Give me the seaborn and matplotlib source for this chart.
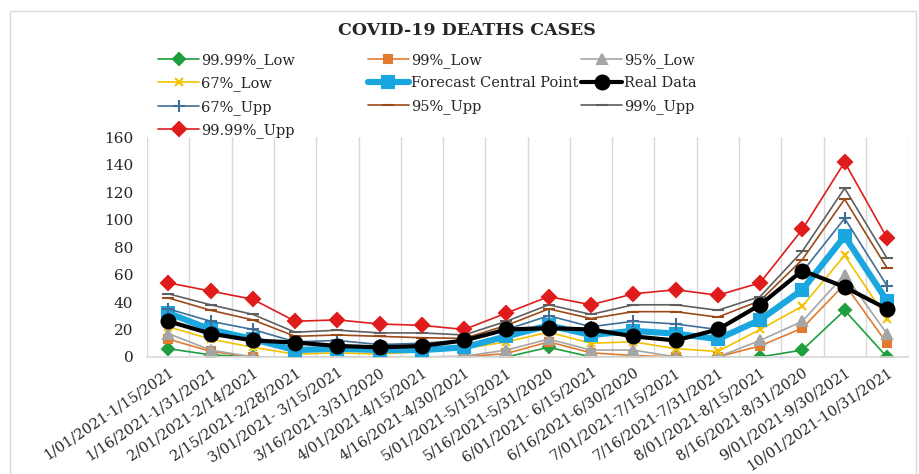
import numpy as np
import pandas as pd
import matplotlib
matplotlib.use("Agg")
import matplotlib.pyplot as plt
import seaborn as sns
from matplotlib.patches import Rectangle

periods = [
    "1/01/2021-1/15/2021", "1/16/2021-1/31/2021", "2/01/2021-2/14/2021",
    "2/15/2021-2/28/2021", "3/01/2021- 3/15/2021", "3/16/2021-3/31/2020",
    "4/01/2021-4/15/2021", "4/16/2021-4/30/2021", "5/01/2021-5/15/2021",
    "5/16/2021-5/31/2020", "6/01/2021- 6/15/2021", "6/16/2021-6/30/2020",
    "7/01/2021-7/15/2021", "7/16/2021-7/31/2021", "8/01/2021-8/15/2021",
    "8/16/2021-8/31/2020", "9/01/2021-9/30/2021", "10/01/2021-10/31/2021",
]

low_9999 = [6, 1.5, 0, 0, 0, 0, 0, 0, 0, 7, 0, 0, 0, 0, 0, 5, 34, 0]
low_99 = [13, 4, 0, 0, 0, 0, 0, 0, 2.5, 11, 3, 1, 0, 0, 8, 21, 53, 10]
low_95 = [17, 5, 0, 0, 0, 0, 0, 0.5, 5, 13, 5, 5, 0, 0, 12, 26, 60, 17]
low_67 = [22, 13, 7, 2, 3, 2, 4, 6, 11, 18, 10, 11, 6, 4, 20, 37, 74, 28]
forecast = [32, 20, 13, 5, 6, 5, 5, 7, 15, 23, 16, 19, 17, 13, 27, 49, 88, 41]
real_data = [26, 17, 12, 10.5, 8, 7, 8, 12, 20, 21, 20, 15, 12, 20, 38, 63, 51, 35]
upp_67 = [35, 26, 20, 11, 12, 9, 10, 12, 20, 30, 22, 26, 24, 20, 37, 62, 101, 52]
upp_95 = [43, 34, 27, 15, 16, 15, 14, 13.5, 23, 35, 28, 33, 33, 29, 41, 71, 115, 65]
upp_99 = [46, 38, 31, 18, 19.5, 17.5, 17.5, 16, 26, 38, 31, 38, 38, 34, 44, 77, 123, 72]
upp_9999 = [54, 48, 42, 26, 27, 24, 23, 20, 32, 44, 38, 46, 49, 45, 54, 93, 142, 87]

# name, values, colour, marker, line width, marker size, z-order
series = [
    ("99.99%_Low", low_9999, "#1f9e3f", "D", 1.2, 6, 2),
    ("99%_Low", low_99, "#e07b30", "s", 1.2, 6, 2),
    ("95%_Low", low_95, "#a5a5a5", "^", 1.2, 7, 2),
    ("67%_Low", low_67, "#f2c200", "x", 1.2, 6, 2),
    ("Forecast Central Point", forecast, "#1aa7e0", "s", 4.5, 9, 3),
    ("Real Data", real_data, "#000000", "o", 3.0, 10, 5),
    ("67%_Upp", upp_67, "#3f6f99", "+", 1.2, 9, 4),
    ("95%_Upp", upp_95, "#9b4a1a", "_", 1.2, 9, 4),
    ("99%_Upp", upp_99, "#5f5f5f", "_", 1.2, 9, 4),
    ("99.99%_Upp", upp_9999, "#e01b1b", "D", 1.2, 7, 4),
]

sns.set_theme(style="white")
plt.rcParams["font.family"] = ["DejaVu Serif"]
plt.rcParams["text.color"] = "#262626"

fig = plt.figure(figsize=(9.2, 4.74), dpi=100)
ax = fig.add_axes([0.160, 0.247, 0.827, 0.463])

x = np.arange(len(periods))
for name, vals, color, marker, lw, ms, z in series:
    df = pd.DataFrame({"x": x, "y": vals})
    sns.lineplot(data=df, x="x", y="y", ax=ax, color=color, linewidth=lw,
                 marker=marker, markersize=ms, markeredgecolor=color,
                 markeredgewidth=1.5, label=name, zorder=z, sort=False)

ax.set_xlim(-0.5, len(periods) - 0.5)
ax.set_ylim(0, 160)
ax.set_yticks(np.arange(0, 161, 20))
ax.tick_params(axis="y", labelsize=11, length=0, pad=10, labelcolor="#262626")
ax.set_xticks(x)
ax.set_xticklabels(periods, rotation=34, ha="right", rotation_mode="anchor",
                   fontsize=10.5, color="#262626")
ax.tick_params(axis="x", length=0, pad=6)
ax.set_xlabel("")
ax.set_ylabel("")

# vertical separators between periods
for b in np.arange(-0.5, len(periods) + 0.5, 1):
    ax.axvline(b, color="#d9d9d9", linewidth=1.0, zorder=0)
for side in ["top", "right", "left"]:
    ax.spines[side].set_visible(False)
ax.spines["bottom"].set_color("#d9d9d9")

# legend laid out row by row in three columns
handles, labels = ax.get_legend_handles_labels()
ax.get_legend().remove()
col_x = [0.172, 0.400, 0.632]
for c in range(3):
    idx = list(range(c, len(handles), 3))
    fig.legend([handles[i] for i in idx], [labels[i] for i in idx],
               loc="upper left", bbox_to_anchor=(col_x[c], 0.888),
               frameon=False, fontsize=10.5, handlelength=2.8,
               handletextpad=0.15, labelspacing=0.58, borderaxespad=0,
               borderpad=0)

fig.text(0.507, 0.935, "COVID-19 DEATHS CASES", ha="center", va="center",
         fontsize=12.5, fontweight="bold")

fig.patches.append(Rectangle((0.011, -0.01), 0.985, 0.987, transform=fig.transFigure,
                             fill=False, edgecolor="#d9d9d9", linewidth=1.0))

fig.savefig("out.png", dpi=100)
